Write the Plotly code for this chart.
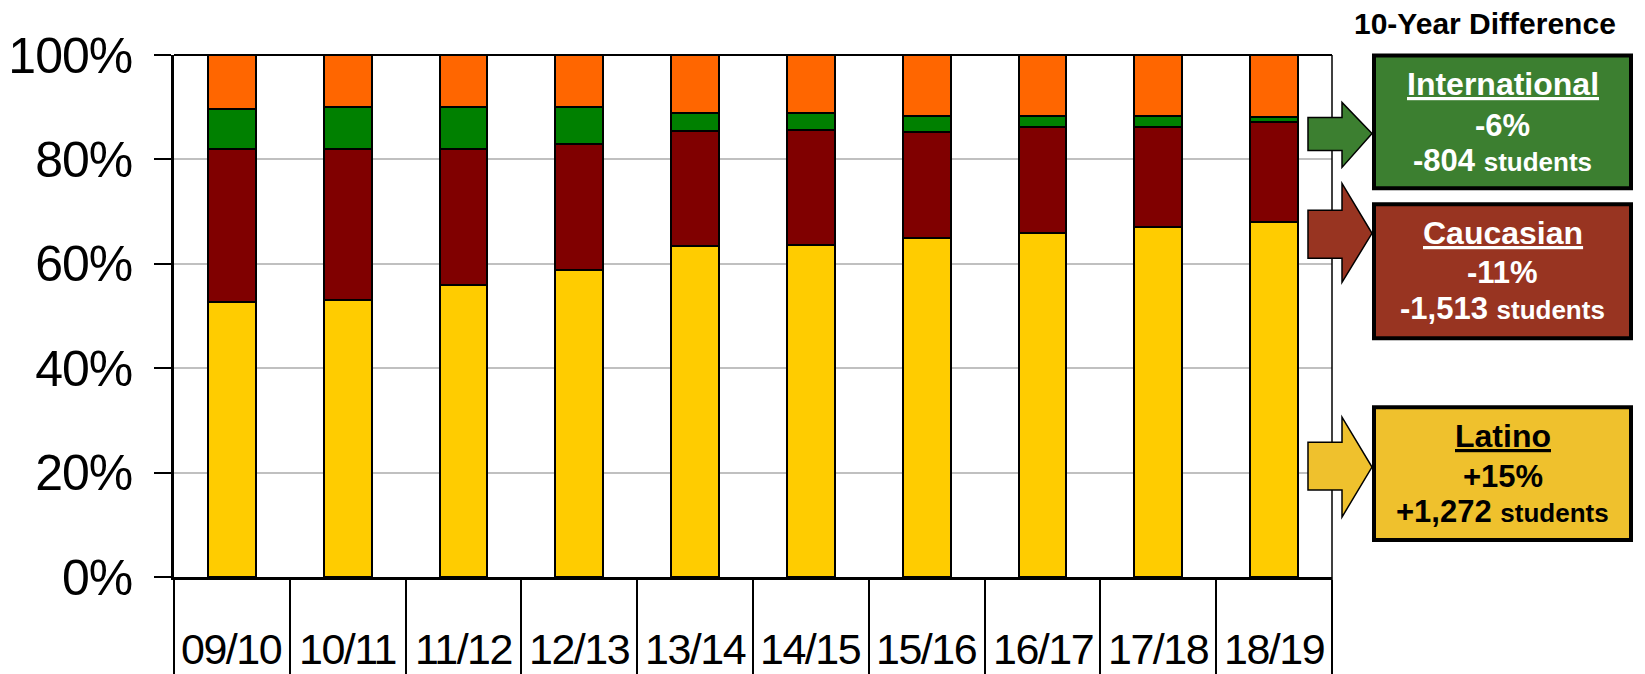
import plotly.graph_objects as go

# ---------------- data ----------------
years = ["09/10", "10/11", "11/12", "12/13", "13/14", "14/15", "15/16", "16/17", "17/18", "18/19"]
latino = [52.6, 53.0, 55.9, 58.9, 63.5, 63.6, 64.9, 65.9, 67.0, 68.0]
caucasian = [29.3, 28.9, 26.0, 24.0, 22.0, 22.0, 20.4, 20.4, 19.3, 19.2]
international = [7.8, 8.2, 8.2, 7.2, 3.3, 3.2, 3.0, 2.0, 2.0, 1.0]
other = [10.3, 9.9, 9.9, 9.9, 11.2, 11.2, 11.7, 11.7, 11.7, 11.8]
y_ticks = [0, 20, 40, 60, 80, 100]
y_ticktext = ["0%", "20%", "40%", "60%", "80%", "100%"]

box_title = "10-Year Difference"
boxes = [
    ("International", "-6%", "-804", "#3C7F30", "white"),
    ("Caucasian", "-11%", "-1,513", "#983421", "white"),
    ("Latino", "+15%", "+1,272", "#EFC12D", "black"),
]

# ---------------- layout geometry (screen pixels) ----------------
OFF = 8                      # page body margin offset
W, H = 1645 - OFF, 674 - OFF  # figure size
L, R, T, B = 174, 1332, 54.5, 577   # plot area in screen pixels

SANS = "Liberation Sans, Arial, sans-serif"


def px(x):
    return (x - L) / (R - L)


def py(y):
    return (B - y) / (B - T)


def tight(text, sp):
    return '<span style="letter-spacing:%spx">%s</span>' % (sp, text)


fig = go.Figure()
series = [
    ("Latino", latino, "#FFCC00"),
    ("Caucasian", caucasian, "#800000"),
    ("International", international, "#008000"),
    ("Other", other, "#FF6600"),
]
for name, vals, col in series:
    fig.add_trace(go.Bar(
        x=years, y=vals, name=name, width=0.414,
        marker=dict(color=col, line=dict(color="black", width=2)),
        showlegend=False,
    ))

shapes = []
shapes.append(dict(type="line", xref="paper", yref="paper", x0=0, x1=1, y0=1, y1=1,
                   line=dict(color="black", width=2)))
shapes.append(dict(type="line", xref="paper", yref="paper", x0=1, x1=1, y0=py(680), y1=1,
                   line=dict(color="black", width=1.5)))

annotations = []
for yr in years:
    annotations.append(dict(x=yr, xref="x", y=py(649), yref="paper",
                            text=tight(yr, -1.5),
                            showarrow=False, xanchor="center", yanchor="middle",
                            font=dict(family=SANS, size=43, color="black")))

annotations.append(dict(x=px(1485), y=py(23), xref="paper", yref="paper", text="<b>%s</b>" % box_title,
                        showarrow=False, xanchor="center", yanchor="middle",
                        font=dict(family=SANS, size=30, color="black")))

box_geo = [
    (53, 190, (84, 125, 160), (117, 150), (102, 167), 133),
    (202, 340, (233, 272, 308), (210, 258), (183, 282), 233),
    (405, 542, (436, 476, 511), (442, 490), (417, 517), 467),
]
bx0, bx1 = 1372, 1633
for (label, pct, num, col, tcol), (top, bot, lines, shaft, head, tip) in zip(boxes, box_geo):
    shapes.append(dict(type="rect", xref="paper", yref="paper",
                       x0=px(bx0 + 2), x1=px(bx1 - 2), y0=py(top + 2), y1=py(bot - 2),
                       fillcolor=col, line=dict(color="black", width=4)))
    pts = [(1308, shaft[0]), (1342, shaft[0]), (1342, head[0]), (1372, tip),
           (1342, head[1]), (1342, shaft[1]), (1308, shaft[1])]
    path = "M " + " L ".join("%.5f,%.5f" % (px(a), py(b)) for a, b in pts) + " Z"
    shapes.append(dict(type="path", xref="paper", yref="paper", path=path,
                       fillcolor=col, line=dict(color="black", width=1.5)))
    cx = px((bx0 + bx1) / 2)
    annotations.append(dict(x=cx, y=py(lines[0]), xref="paper", yref="paper",
                            text='<b><span style="text-decoration:underline">%s</span></b>' % label,
                            showarrow=False, xanchor="center", yanchor="middle",
                            font=dict(family=SANS, size=32, color=tcol)))
    annotations.append(dict(x=cx, y=py(lines[1]), xref="paper", yref="paper",
                            text="<b>%s</b>" % pct,
                            showarrow=False, xanchor="center", yanchor="middle",
                            font=dict(family=SANS, size=31, color=tcol)))
    annotations.append(dict(x=cx, y=py(lines[2]), xref="paper", yref="paper",
                            text='<b>%s <span style="font-size:26px">students</span></b>' % num,
                            showarrow=False, xanchor="center", yanchor="middle",
                            font=dict(family=SANS, size=31, color=tcol)))

fig.update_layout(
    width=W, height=H,
    margin=dict(l=L - OFF, r=W - (R - OFF), t=T - OFF, b=H - (B - OFF), pad=0, autoexpand=False),
    paper_bgcolor="white", plot_bgcolor="white",
    barmode="stack",
    shapes=shapes, annotations=annotations,
    xaxis=dict(
        type="category", range=[-0.5, 9.5], automargin=False,
        showline=True, linecolor="black", linewidth=3,
        ticks="outside", tickson="boundaries", ticklen=105, tickwidth=1.5, tickcolor="black",
        showticklabels=False, showgrid=False, zeroline=False, fixedrange=True,
    ),
    yaxis=dict(
        range=[0, 100], tickmode="array", tickvals=y_ticks,
        ticktext=[tight(t, -1) for t in y_ticktext], automargin=False,
        showline=True, linecolor="black", linewidth=2.5,
        ticks="outside", ticklen=17, tickwidth=2, tickcolor="black",
        showgrid=True, gridcolor="#C0C0C0", gridwidth=2, zeroline=False,
        ticklabelstandoff=12,
        tickfont=dict(family=SANS, size=50, color="black"),
    ),
)

fig.write_html("out.html")
